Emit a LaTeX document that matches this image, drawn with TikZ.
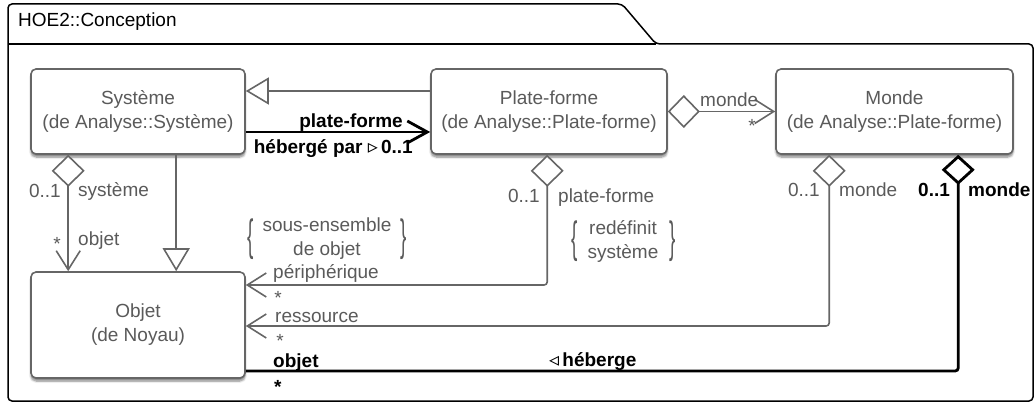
\documentclass[tikz,border=0pt]{standalone}
\usepackage{fontspec}
\usepackage{graphicx}
\setmainfont{Liberation Sans}
\newfontfamily\dejavu{DejaVu Sans}
\usetikzlibrary{arrows.meta,shadows.blur,calc}
\definecolor{lc}{HTML}{666666}
\definecolor{tc}{HTML}{5A5A5A}
\tikzset{
  dia/.tip={Diamond[open,fill=white,length=32pt,width=33pt]},
  bdia/.tip={Diamond[open,fill=white,length=30pt,width=33pt]},
  barb/.tip={Straight Barb[length=19pt,width=24pt]},
  bbarb/.tip={Straight Barb[length=20pt,width=22pt]},
  tri/.tip={Triangle[open,fill=white,length=23pt,width=27pt]},
}
\newcommand{\lbrc}{\scalebox{1}[2.3]{\{}}
\newcommand{\rbrc}{\scalebox{1}[2.3]{\}}}
\begin{document}
\begin{tikzpicture}[x=1pt,y=-1pt,
  every node/.style={font=\fontsize{19}{24}\selectfont, inner sep=0pt},
  cls/.style={draw=lc, line width=1.6pt, rounded corners=5pt, fill=white, text=tc, align=center,
    blur shadow={shadow xshift=0pt, shadow yshift=-3pt, shadow blur steps=6, shadow opacity=50}},
  lab/.style={text=tc},
  blab/.style={text=black, font=\fontsize{19}{24}\selectfont\bfseries},
  assoc/.style={draw=lc, line width=1.6pt, rounded corners=3pt},
  bassoc/.style={draw=black, line width=2.8pt, rounded corners=3pt},
  frame/.style={draw=black, line width=1.5pt, rounded corners=4pt},
]
\useasboundingbox (0,0) rectangle (1036,403);
% package frame
\draw[frame] (8,401) -- (8,4) -- (622,4) -- (656,44) -- (1033,44) -- (1033,401) -- cycle;
\draw[black, line width=1.5pt] (8,44) -- (656,44);
\node[anchor=base west, text=black] (title) at (18,27) {HOE2::Conception};

% classes
\node[cls, minimum width=214pt, minimum height=85pt] (sys) at (138,111.5) {Système\\(de Analyse::Système)};
\node[cls, minimum width=236pt, minimum height=85pt] (pf) at (549,111.5) {Plate-forme\\(de Analyse::Plate-forme)};
\node[cls, minimum width=237pt, minimum height=85pt] (mon) at (894.5,111.5) {Monde\\(de Analyse::Plate-forme)};
\node[cls, minimum width=214pt, minimum height=106pt] (obj) at (138,325) {Objet\\(de Noyau)};

% connectors
\draw[assoc, -{tri}] ($(pf.west)+(0,-20.5)$) -- ($(sys.east)+(0,-20.5)$);
\draw[bassoc, -{bbarb}] ($(sys.east)+(0,20.5)$) -- ($(pf.west)+(0,20.5)$);
\draw[assoc, {dia}-{barb}] (pf.east) -- (mon.west);
\draw[assoc, {dia}-{barb}] ($(sys.south west)+(38,0)$) -- ($(obj.north west)+(38,0)$);
\draw[assoc, -{tri}] ($(sys.south west)+(146,0)$) -- ($(obj.north west)+(146,0)$);
\draw[assoc, {dia}-{barb}] ($(pf.south west)+(117,0)$) |- ($(obj.east)+(0,-40)$);
\draw[assoc, {dia}-{barb}] ($(mon.south west)+(54,0)$) |- ($(obj.east)+(0,1)$);
\draw[bassoc, {bdia}-] ($(mon.south west)+(183,0)$) |- ($(obj.east)+(0,46)$);

% labels: Systeme -> Objet
\node[lab, anchor=base east] (l1) at (61,198) {0..1};
\node[lab, anchor=base west] (l2) at (78,197) {système};
\node[lab, anchor=base] (l3) at (57,251) {*};
\node[lab, anchor=base west] (l4) at (78,246) {objet};
% bold association
\node[blab, anchor=base east] (l5) at (403,128) {plate-forme};
\node[blab, anchor=base east] (l6) at (413,154) {hébergé par {\dejavu\mdseries\fontsize{20}{20}\selectfont ▹}\,0..1};
% Plate-forme -> Monde
\node[lab, anchor=base west] (l7) at (700,107) {monde};
\node[lab, anchor=base] (l8) at (752,133) {*};
% Plate-forme -> Objet
\node[lab, anchor=base east] (l9) at (540,203) {0..1};
\node[lab, anchor=base west] (l10) at (558,203) {plate-forme};
\node[lab, align=center] (c2) at (623,241) {redéfinit\\système};
\node[lab] (c2l) at (575,241) {\lbrc};
\node[lab] (c2r) at (673,241) {\rbrc};
\node[lab, align=center] (c1) at (327,239) {sous-ensemble\\de objet};
\node[lab] (c1l) at (251,239) {\lbrc};
\node[lab] (c1r) at (404,239) {\rbrc};
\node[lab, anchor=base west] (l11) at (273,279) {périphérique};
\node[lab, anchor=base] (l12) at (278,305) {*};
% Monde -> Objet
\node[lab, anchor=base east] (l13) at (820,197) {0..1};
\node[lab, anchor=base west] (l14) at (839,197) {monde};
\node[lab, anchor=base west] (l15) at (275,323) {ressource};
\node[lab, anchor=base] (l16) at (280,348) {*};
% bold Monde -> Objet
\node[blab, anchor=base west] (l17) at (918,197) {0..1};
\node[blab, anchor=base west] (l18) at (968,197) {monde};
\node[blab, anchor=base west] (l19) at (273,367) {objet};
\node[blab, anchor=base west] (l20) at (274,393) {*};
\node[blab, anchor=base west] (l21) at (549,366) {{\dejavu\mdseries\fontsize{20}{20}\selectfont ◃}\,héberge};
\end{tikzpicture}
\end{document}
